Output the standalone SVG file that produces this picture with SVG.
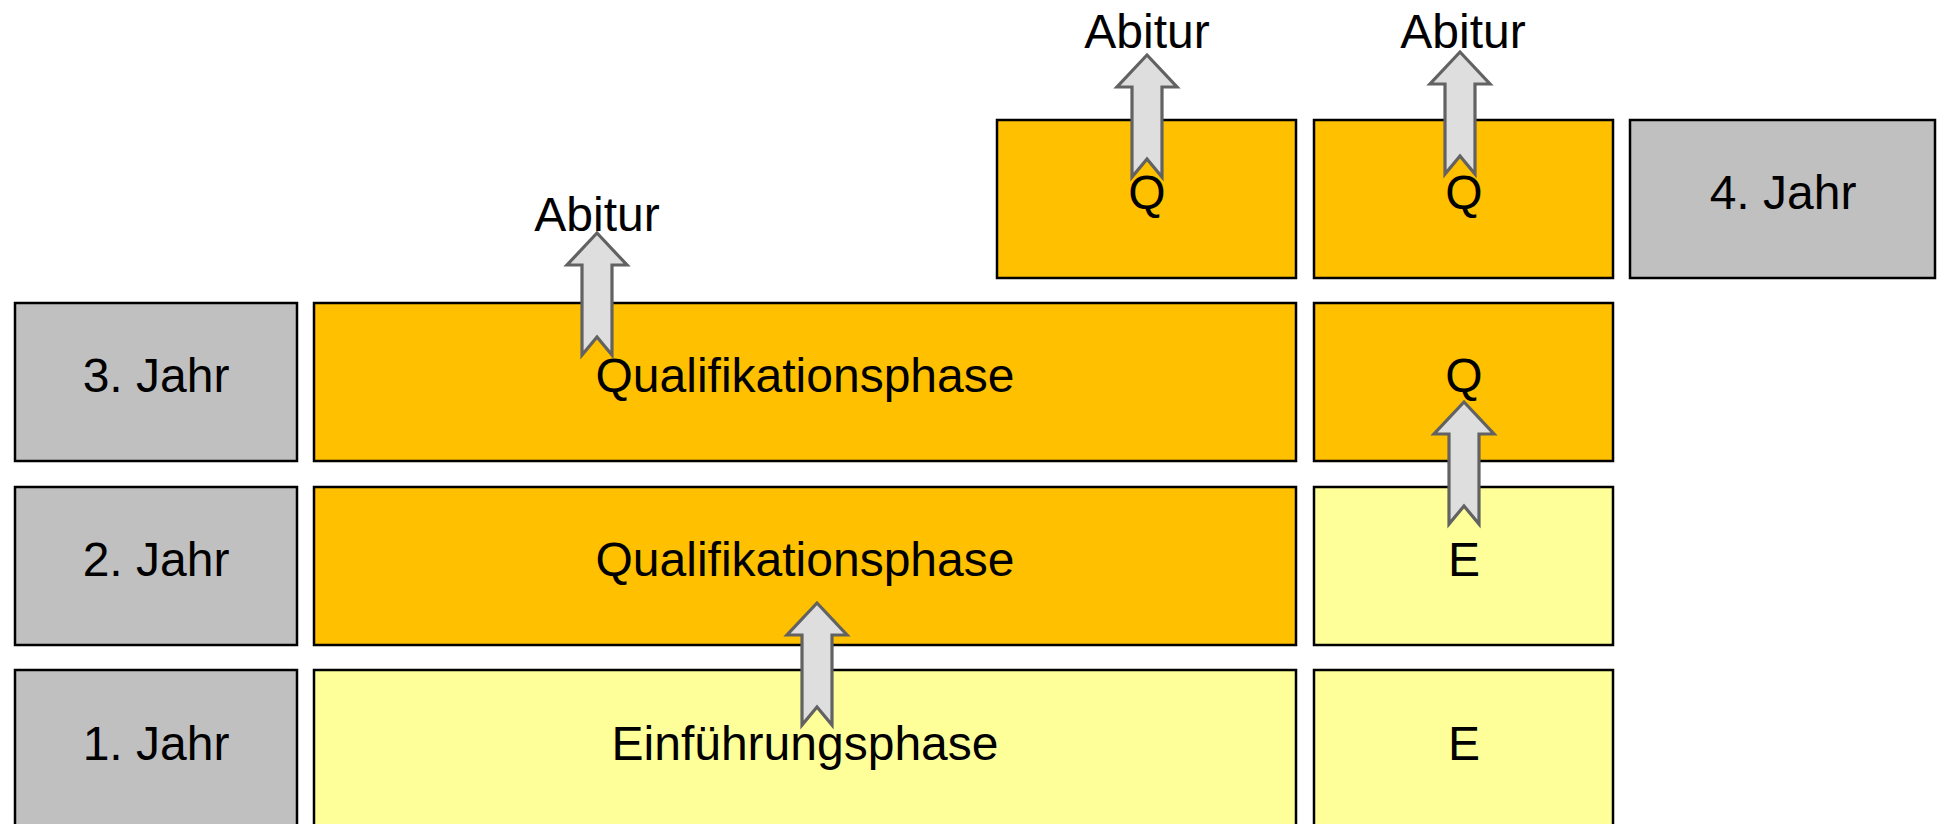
<svg xmlns="http://www.w3.org/2000/svg" width="1940" height="824" viewBox="0 0 1940 824">
<style>
rect{stroke:#000;stroke-width:2.5}
.g{fill:#C0C0C0}
.o{fill:#FFC000}
.y{fill:#FFFF99}
text{font-family:"Liberation Sans",Arial,sans-serif;font-size:48px;fill:#000;text-anchor:middle}
.arr{fill:#DEDEDE;stroke:#626262;stroke-width:3.2;stroke-linejoin:miter}
</style>
<defs>
<path id="arrow" d="M0,0 L30,32 L15,32 L15,122 L0,104 L-15,122 L-15,32 L-30,32 Z"/>
</defs>
<rect x="0" y="0" width="1940" height="824" fill="#fff" style="stroke:none"/>
<g id="jahr4"><rect class="g" x="1630" y="120" width="305" height="158"/><text x="1783" y="209">4. Jahr</text></g>
<g id="q-top-1"><rect class="o" x="997" y="120" width="299" height="158"/><text x="1147" y="209">Q</text></g>
<g id="q-top-2"><rect class="o" x="1314" y="120" width="299" height="158"/><text x="1464" y="209">Q</text></g>
<g id="jahr3"><rect class="g" x="15" y="303" width="282" height="158"/><text x="156" y="392">3. Jahr</text></g>
<g id="qphase-3"><rect class="o" x="314" y="303" width="982" height="158"/><text x="805" y="392">Qualifikationsphase</text></g>
<g id="q-3"><rect class="o" x="1314" y="303" width="299" height="158"/><text x="1464" y="392">Q</text></g>
<g id="jahr2"><rect class="g" x="15" y="487" width="282" height="158"/><text x="156" y="576">2. Jahr</text></g>
<g id="qphase-2"><rect class="o" x="314" y="487" width="982" height="158"/><text x="805" y="576">Qualifikationsphase</text></g>
<g id="e-2"><rect class="y" x="1314" y="487" width="299" height="158"/><text x="1464" y="576">E</text></g>
<g id="jahr1"><rect class="g" x="15" y="670" width="282" height="160"/><text x="156" y="760">1. Jahr</text></g>
<g id="ephase-1"><rect class="y" x="314" y="670" width="982" height="160"/><text x="805" y="760">Einführungsphase</text></g>
<g id="e-1"><rect class="y" x="1314" y="670" width="299" height="160"/><text x="1464" y="760">E</text></g>
<g id="abitur-1"><text x="1147" y="48">Abitur</text></g>
<g id="abitur-2"><text x="1463" y="48">Abitur</text></g>
<g id="abitur-3"><text x="597" y="231">Abitur</text></g>
<g id="connectors">
<use href="#arrow" class="arr" transform="translate(1147,55)"/>
<use href="#arrow" class="arr" transform="translate(1460,52)"/>
<use href="#arrow" class="arr" transform="translate(597,233)"/>
<use href="#arrow" class="arr" transform="translate(817,603)"/>
<use href="#arrow" class="arr" transform="translate(1464,402)"/>
</g>
</svg>
